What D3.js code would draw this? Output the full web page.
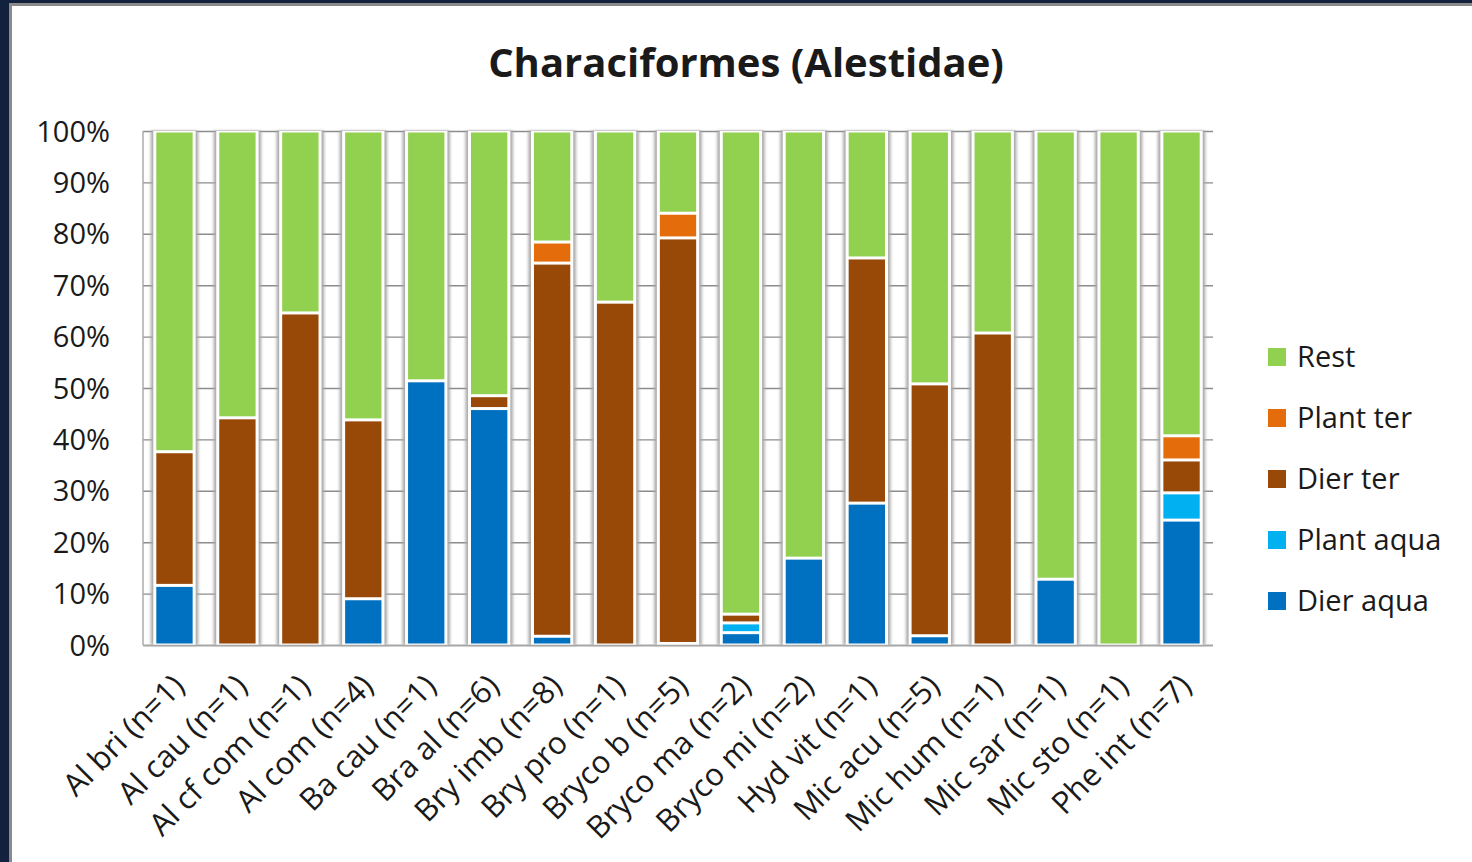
<!DOCTYPE html>
<html>
<head>
<meta charset="utf-8">
<script src="https://cdn.jsdelivr.net/npm/d3@7"></script>
<style>
  html, body { margin: 0; padding: 0; background: #12223e; }
  svg { display: block; }
  text { font-family: "Open Sans", "DejaVu Sans", sans-serif; fill: #1a1a1a; }
</style>
</head>
<body>
<svg id="chart" width="1472" height="862"></svg>
<script>
// ---- data (percentages) ----
const categories = ["Al bri (n=1)", "Al cau (n=1)", "Al cf com (n=1)", "Al com (n=4)", "Ba cau (n=1)",
  "Bra al (n=6)", "Bry imb (n=8)", "Bry pro (n=1)", "Bryco b (n=5)", "Bryco ma (n=2)", "Bryco mi (n=2)",
  "Hyd vit (n=1)", "Mic acu (n=5)", "Mic hum (n=1)", "Mic sar (n=1)", "Mic sto (n=1)", "Phe int (n=7)"];
const dierAqua  = [11.6, 0, 0, 9.0, 51.4, 46.0, 1.7, 0, 0.3, 2.4, 16.9, 27.6, 1.8, 0, 12.8, 0, 24.3];
const plantAqua = [0, 0, 0, 0, 0, 0, 0, 0, 0, 1.9, 0, 0, 0, 0, 0, 0, 5.3];
const dierTer   = [26.0, 44.2, 64.6, 34.8, 0, 2.5, 72.6, 66.7, 78.9, 1.7, 0, 47.7, 49.0, 60.7, 0, 0, 6.4];
const plantTer  = [0, 0, 0, 0, 0, 0, 4.1, 0, 4.8, 0, 0, 0, 0, 0, 0, 0, 4.7];
const rest      = [62.4, 55.8, 35.4, 56.2, 48.6, 51.5, 21.6, 33.3, 16.0, 94.0, 83.1, 24.7, 49.2, 39.3, 87.2, 100, 59.3];
const seriesNames  = ["Dier aqua", "Plant aqua", "Dier ter", "Plant ter", "Rest"];
const seriesColors = ["#0070c0", "#00b0f0", "#984807", "#e46c0a", "#92d050"];
const yTicks = [0, 10, 20, 30, 40, 50, 60, 70, 80, 90, 100];
const title = "Characiformes (Alestidae)";

// ---- layout ----
const svg = d3.select("#chart");
const W = 1472, H = 862;
const plot = { left: 143, right: 1213, top: 131, bottom: 645 };

svg.append("rect").attr("x", 0).attr("y", 0).attr("width", W).attr("height", H).attr("fill", "#12223e");
svg.append("rect").attr("x", 10.5).attr("y", 4.5).attr("width", W + 20).attr("height", H + 20)
  .attr("fill", "#ffffff").attr("stroke", "#8a8a8a").attr("stroke-width", 3);

const defs = svg.append("defs");
defs.append("filter").attr("id", "soft").attr("x", "-50%").attr("y", "-5%").attr("width", "200%").attr("height", "110%")
  .append("feGaussianBlur").attr("stdDeviation", 1.6);

const table = categories.map((c, i) => ({
  cat: c, "Dier aqua": dierAqua[i], "Plant aqua": plantAqua[i], "Dier ter": dierTer[i],
  "Plant ter": plantTer[i], "Rest": rest[i]
}));
const stacked = d3.stack().keys(seriesNames)(table);

const x = d3.scaleBand().domain(categories).range([plot.left, plot.right]).paddingInner(0).paddingOuter(0);
const barW = x.bandwidth() / 1.6;
const bx = c => x(c) + (x.bandwidth() - barW) / 2;
const y = d3.scaleLinear().domain([0, 100]).range([plot.bottom, plot.top]);
const color = d3.scaleOrdinal().domain(seriesNames).range(seriesColors);

// gridlines
const grid = svg.append("g").attr("transform", `translate(${plot.left},0)`)
  .call(d3.axisLeft(y).tickValues(yTicks).tickSize(-(plot.right - plot.left)).tickFormat(""));
grid.select(".domain").remove();
grid.selectAll("line").attr("stroke", "#8c8c8c").attr("stroke-width", 1.4);

// left axis line
svg.append("line").attr("x1", plot.left).attr("x2", plot.left).attr("y1", y(100)).attr("y2", y(0))
  .attr("stroke", "#a6a6a6").attr("stroke-width", 1.4);

// bar shadows
svg.append("g").selectAll("rect").data(categories).join("rect")
  .attr("x", c => bx(c) - 4).attr("width", barW + 8)
  .attr("y", y(100)).attr("height", y(0) - y(100))
  .attr("fill", "#a8a8a8").attr("filter", "url(#soft)");
svg.append("g").selectAll("rect").data(categories).join("rect")
  .attr("x", c => bx(c) - 1.5).attr("width", barW + 3)
  .attr("y", y(100)).attr("height", y(0) - y(100))
  .attr("fill", "#ffffff");

// bars
svg.append("g").selectAll("g").data(stacked).join("g")
  .attr("fill", d => color(d.key))
  .selectAll("rect").data(d => d.filter(s => s[1] - s[0] > 0)).join("rect")
  .attr("x", d => bx(d.data.cat) + 0.75).attr("width", barW - 1.5)
  .attr("y", d => y(d[1]) + 0.75).attr("height", d => Math.max(0, y(d[0]) - y(d[1]) - 1.5))
  .attr("stroke", "#ffffff").attr("stroke-width", 1.5);

// bottom axis line
svg.append("line").attr("x1", plot.left).attr("x2", plot.right).attr("y1", y(0) + 0.5).attr("y2", y(0) + 0.5)
  .attr("stroke", "#a6a6a6").attr("stroke-width", 1.6);

// y tick labels
const yAxis = svg.append("g").attr("transform", `translate(${plot.left},0)`)
  .call(d3.axisLeft(y).tickValues(yTicks).tickSize(0).tickPadding(33).tickFormat(d => d + "%"));
yAxis.select(".domain").remove();
yAxis.selectAll("text").attr("font-size", 29).attr("font-family", "Open Sans").attr("fill", "#1a1a1a")
  .attr("dy", "0.35em");

// x labels
const xAxis = svg.append("g").attr("transform", `translate(0,${plot.bottom})`)
  .call(d3.axisBottom(x).tickSize(0).tickPadding(0));
xAxis.select(".domain").remove();
xAxis.selectAll(".tick").attr("transform", c => `translate(${x(c) + x.bandwidth() / 2 + 4},35)`);
xAxis.selectAll("text").attr("font-size", 31).attr("font-family", "Open Sans").attr("fill", "#1a1a1a")
  .attr("text-anchor", "end").attr("x", 0).attr("y", 0).attr("dy", "0.35em")
  .attr("transform", "rotate(-45)");

// title
svg.append("text").attr("x", 746).attr("y", 77).attr("text-anchor", "middle")
  .attr("font-size", 40).attr("font-weight", 700).text(title);

// legend
const legendOrder = seriesNames.slice().reverse();
const lg = svg.append("g").selectAll("g").data(legendOrder).join("g")
  .attr("transform", (d, i) => `translate(1268,${357 + i * 61})`);
lg.append("rect").attr("x", 0).attr("y", -9).attr("width", 18).attr("height", 18).attr("fill", d => color(d));
lg.append("text").attr("x", 29).attr("y", 0).attr("dy", "0.35em").attr("font-size", 29).text(d => d);
</script>
</body>
</html>
